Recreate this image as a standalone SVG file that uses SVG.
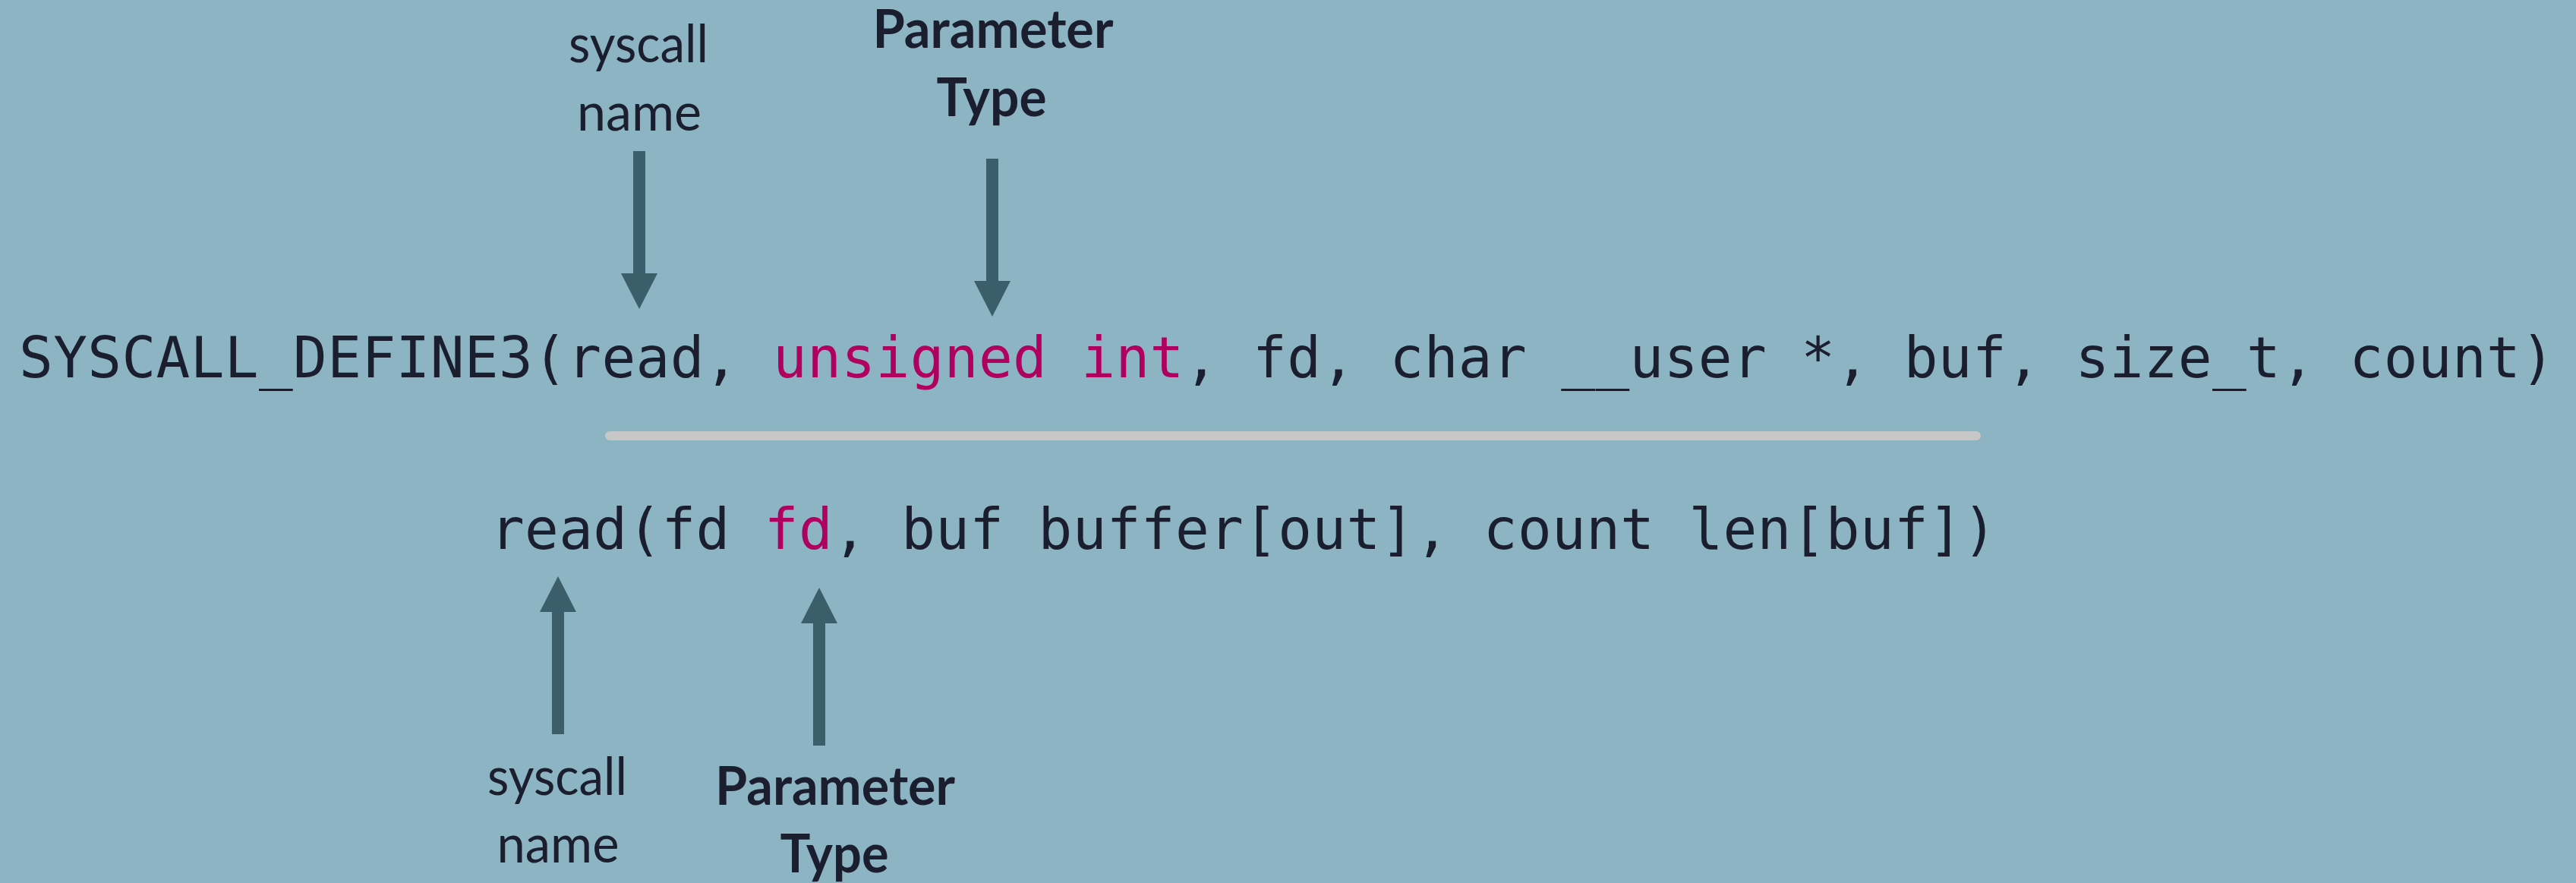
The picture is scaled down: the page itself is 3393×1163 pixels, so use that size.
<svg xmlns="http://www.w3.org/2000/svg" width="3393" height="1163" viewBox="0 0 3393 1163">
  <style>
    .code { font-family: "DejaVu Sans Mono", "Liberation Mono", monospace; font-size: 74.4px; fill: #1b1e2e; }
    .hl { fill: #b0005f; }
    .label { font-family: Lato, "Open Sans", sans-serif; font-size: 70px; fill: #1b1e2e; text-anchor: middle; }
    .bold { font-weight: bold; }
    .arrow { stroke: #3a5f6a; stroke-width: 16; fill: none; marker-end: url(#head); }
    .rule { stroke: #c7c7c7; stroke-width: 12; stroke-linecap: round; }
  </style>
  <defs>
    <marker id="head" viewBox="0 0 47 48" markerWidth="47" markerHeight="48" refX="1" refY="24" orient="auto" markerUnits="userSpaceOnUse">
      <path d="M0,0 L47,24 L0,48 Z" fill="#3a5f6a"/>
    </marker>
  </defs>

  <rect width="3393" height="1163" fill="#8db4c3"/>

  <!-- kernel definition -->
  <g id="kernel-def">
    <text class="code" x="25" y="497" textLength="3340" lengthAdjust="spacing">SYSCALL_DEFINE3(read, <tspan class="hl">unsigned int</tspan>, fd, char __user *, buf, size_t, count)</text>
  </g>

  <!-- divider -->
  <g id="divider">
    <line class="rule" x1="803" y1="574" x2="2603" y2="574"/>
  </g>

  <!-- syzkaller description -->
  <g id="syz-def">
    <text class="code" x="646" y="723" textLength="1984" lengthAdjust="spacing">read(fd <tspan class="hl">fd</tspan>, buf buffer[out], count len[buf])</text>
  </g>

  <!-- labels -->
  <g id="label-top-name">
    <text class="label" x="841" y="82" textLength="184" lengthAdjust="spacingAndGlyphs">syscall</text>
    <text class="label" x="842" y="172" textLength="164" lengthAdjust="spacingAndGlyphs">name</text>
  </g>
  <g id="label-top-type">
    <text class="label bold" x="1308" y="63" textLength="317" lengthAdjust="spacingAndGlyphs">Parameter</text>
    <text class="label bold" x="1306" y="153" textLength="145" lengthAdjust="spacingAndGlyphs">Type</text>
  </g>
  <g id="label-bottom-name">
    <text class="label" x="734" y="1047" textLength="184" lengthAdjust="spacingAndGlyphs">syscall</text>
    <text class="label" x="735" y="1136" textLength="161" lengthAdjust="spacingAndGlyphs">name</text>
  </g>
  <g id="label-bottom-type">
    <text class="label bold" x="1100" y="1060" textLength="316" lengthAdjust="spacingAndGlyphs">Parameter</text>
    <text class="label bold" x="1099" y="1149" textLength="143" lengthAdjust="spacingAndGlyphs">Type</text>
  </g>

  <!-- connectors -->
  <g id="connectors">
    <line class="arrow" x1="842" y1="199" x2="842" y2="361"/>
    <line class="arrow" x1="1307" y1="209" x2="1307" y2="371"/>
    <line class="arrow" x1="735" y1="967" x2="735" y2="805"/>
    <line class="arrow" x1="1079" y1="982" x2="1079" y2="820"/>
  </g>
</svg>
